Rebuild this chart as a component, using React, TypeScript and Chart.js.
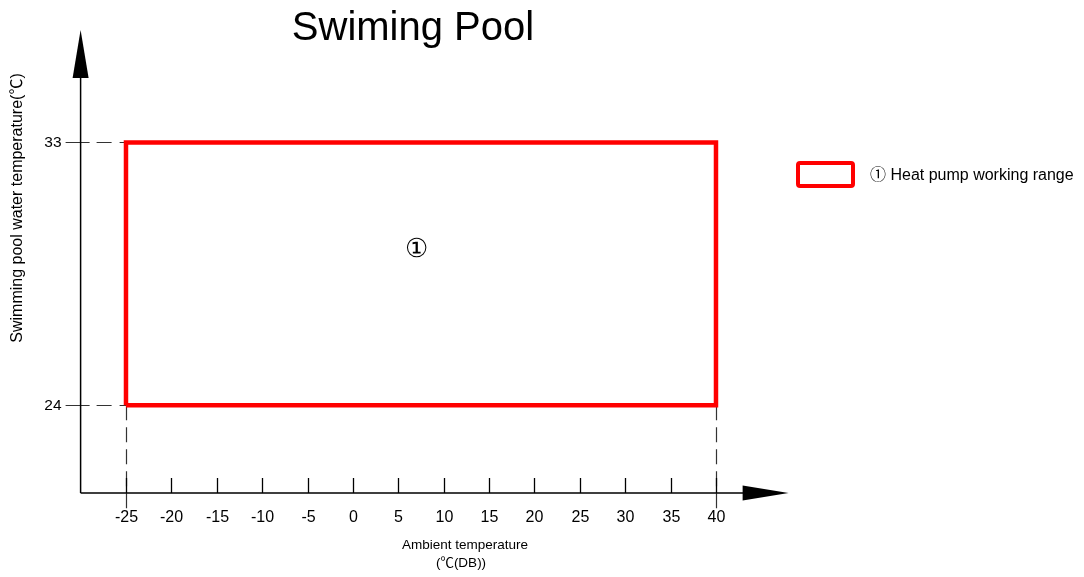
import React, { useEffect, useRef } from "react";
import { Chart, registerables } from "chart.js";

Chart.register(...registerables);

const titleText = "Swiming Pool";
const xAxisTitle = "Ambient temperature";
const xAxisUnit = "(℃(DB))";
const yAxisTitle = "Swimming pool water temperature(℃)";
const legendText = "① Heat pump working range";
const regionMark = "①";

const xTicks = [-25, -20, -15, -10, -5, 0, 5, 10, 15, 20, 25, 30, 35, 40];
const yTicks = [24, 33];

// working range rectangle corners (ambient °C, water °C)
const rangeX = [-25, -25, 40, 40, -25];
const rangeY = [24, 33, 33, 24, 24];

// where the region number sits (data coords)
const markX = 7;
const markY = 29.3;

const SANS = '"Liberation Sans", Arial, "Noto Sans CJK SC", sans-serif';
const RED = "#ff0000";

const drawPlugin = {
  id: "diagram",
  beforeDatasetsDraw(chart: any) {
    const ctx = chart.ctx as CanvasRenderingContext2D;
    const xs = chart.scales.x;
    const ys = chart.scales.y;
    const ox = xs.getPixelForValue(xs.min);
    const oy = ys.getPixelForValue(ys.min);
    const xEnd = xs.getPixelForValue(xs.max);
    const yEnd = ys.getPixelForValue(ys.max);
    const xMin = Math.min(...rangeX);
    const yMin = Math.min(...rangeY);

    ctx.save();
    // dashed guides
    ctx.strokeStyle = "#333";
    ctx.lineWidth = 1.2;
    ctx.setLineDash([24, 7, 15, 8]);
    yTicks.forEach((v) => {
      const py = Math.round(ys.getPixelForValue(v)) + 0.5;
      ctx.beginPath();
      ctx.moveTo(ox - 15, py);
      ctx.lineTo(xs.getPixelForValue(xMin), py);
      ctx.stroke();
    });
    ctx.setLineDash([15, 7]);
    [Math.min(...rangeX), Math.max(...rangeX)].forEach((v) => {
      const px = Math.round(xs.getPixelForValue(v)) + 0.5;
      ctx.beginPath();
      ctx.moveTo(px, ys.getPixelForValue(yMin));
      ctx.lineTo(px, oy + 17);
      ctx.stroke();
    });
    ctx.setLineDash([]);

    // axes
    ctx.strokeStyle = "#000";
    ctx.lineWidth = 1.5;
    ctx.beginPath();
    ctx.moveTo(ox, oy);
    ctx.lineTo(xEnd - 44, oy);
    ctx.moveTo(ox, oy);
    ctx.lineTo(ox, yEnd + 46);
    ctx.stroke();

    // arrows
    ctx.fillStyle = "#000";
    ctx.beginPath();
    ctx.moveTo(xEnd, oy);
    ctx.lineTo(xEnd - 46, oy - 7.5);
    ctx.lineTo(xEnd - 46, oy + 7.5);
    ctx.closePath();
    ctx.fill();
    ctx.beginPath();
    ctx.moveTo(ox, yEnd);
    ctx.lineTo(ox - 8, yEnd + 48);
    ctx.lineTo(ox + 8, yEnd + 48);
    ctx.closePath();
    ctx.fill();

    // x ticks
    ctx.lineWidth = 1.3;
    ctx.font = `16px ${SANS}`;
    ctx.textAlign = "center";
    ctx.textBaseline = "middle";
    xTicks.forEach((v) => {
      const px = Math.round(xs.getPixelForValue(v)) + 0.5;
      ctx.beginPath();
      ctx.moveTo(px, oy - 15);
      ctx.lineTo(px, oy);
      ctx.stroke();
      ctx.fillText(String(v), px, oy + 25);
    });

    // y tick labels
    ctx.textAlign = "right";
    ctx.font = `15.5px ${SANS}`;
    yTicks.forEach((v) => {
      const py = ys.getPixelForValue(v);
      ctx.fillText(String(v), ox - 19, py);
    });

    // axis titles
    ctx.textAlign = "center";
    ctx.font = `13.5px ${SANS}`;
    ctx.fillText(xAxisTitle, 465, 545);
    ctx.fillText(xAxisUnit, 461, 563);
    ctx.save();
    ctx.translate(18, 208);
    ctx.rotate(-Math.PI / 2);
    ctx.font = `16px ${SANS}`;
    ctx.fillText(yAxisTitle, 0, 0);
    ctx.restore();

    // title
    ctx.font = `40px ${SANS}`;
    ctx.fillText(titleText, 413, 29);

    // region mark
    ctx.font = `26px "DejaVu Serif", serif`;
    ctx.fillText(regionMark, xs.getPixelForValue(markX), ys.getPixelForValue(markY));

    // legend
    ctx.strokeStyle = RED;
    ctx.lineWidth = 4;
    ctx.beginPath();
    (ctx as any).roundRect
      ? (ctx as any).roundRect(798, 163, 55, 23, 2)
      : ctx.rect(798, 163, 55, 23);
    ctx.stroke();
    ctx.fillStyle = "#000";
    ctx.textAlign = "left";
    ctx.font = `16px ${SANS}`;
    ctx.fillText(legendText, 870, 176);
    ctx.restore();
  },
};

export default function App() {
  const ref = useRef<HTMLCanvasElement | null>(null);
  useEffect(() => {
    if (!ref.current) return;
    const chart = new Chart(ref.current, {
      type: "scatter",
      data: {
        datasets: [
          {
            label: legendText,
            data: rangeX.map((x, i) => ({ x, y: rangeY[i] })),
            showLine: true,
            borderColor: RED,
            borderWidth: 4.5,
            pointRadius: 0,
            fill: false,
            tension: 0,
            borderJoinStyle: "miter",
          } as any,
        ],
      },
      options: {
        responsive: false,
        animation: false,
        layout: { padding: { left: 80.6, right: 295.4, top: 30, bottom: 84 } },
        plugins: { legend: { display: false }, title: { display: false }, tooltip: { enabled: false } },
        scales: {
          x: { type: "linear", min: -30, max: 48, display: false },
          y: { type: "linear", min: 21, max: 36.85, display: false },
        },
      },
      plugins: [drawPlugin],
    });
    return () => chart.destroy();
  }, []);
  return (
    <canvas
      ref={ref}
      width={1084}
      height={577}
      style={{ position: "absolute", left: 0, top: 0, display: "block", background: "#fff" }}
    />
  );
}
